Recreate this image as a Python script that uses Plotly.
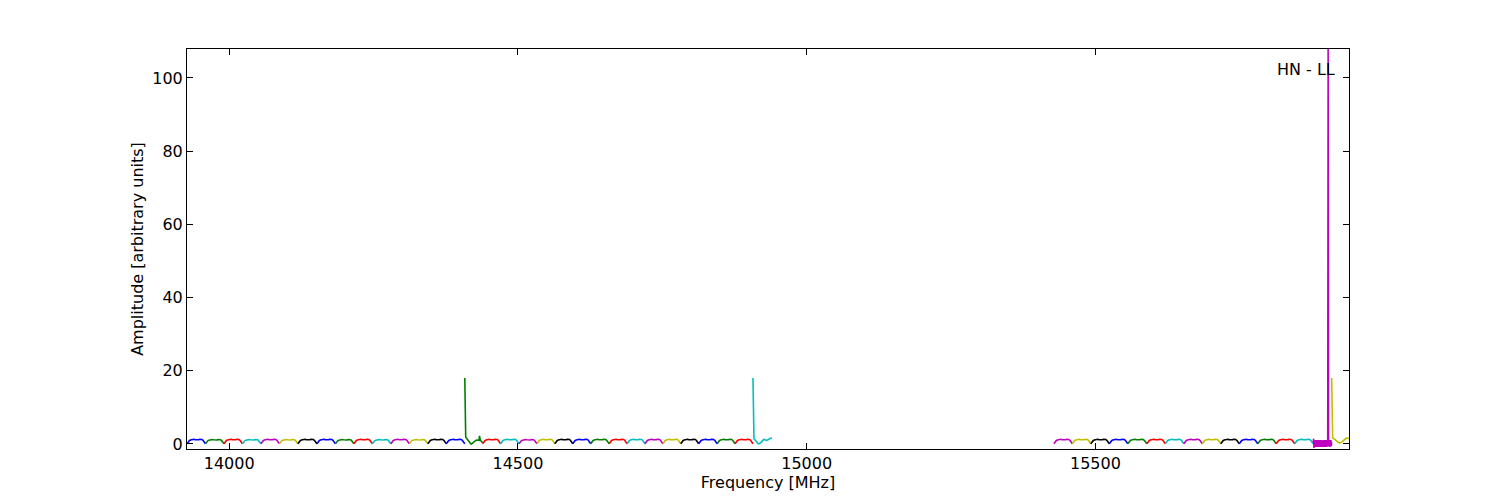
import numpy as np
import plotly.graph_objects as go

# ---------------- data ----------------
# start frequency [MHz] of each spectral window, two groups
G1_STARTS = [13927, 13959, 13991, 14023, 14055, 14087, 14119, 14152, 14184, 14216,
             14248, 14280, 14312, 14344, 14376, 14408, 14439, 14470, 14502, 14533,
             14564, 14595, 14626, 14658, 14689, 14720, 14751, 14782, 14813, 14845,
             14876, 14907]
G1_END = 14940
G2_STARTS = [15428, 15460, 15492, 15524, 15556, 15589, 15621, 15653, 15685, 15717,
             15749, 15781, 15813, 15845, 15877, 15909]
G2_END = 15939

# generic bandpass shape seen in each window (amplitude)
TEMPLATE = [0.05, 0.55, 0.9, 1.1, 1.22, 1.3, 1.28, 1.2, 1.12, 1.1, 1.15, 1.25, 1.3, 1.22, 0.95, 0.5, 0.05]

# per-window level
LEVELS = [1.0, 0.95, 1.0, 0.95, 1.0, 0.95, 1.0, 1.0, 0.95, 1.0, 0.95, 1.0, 0.95, 1.0, 1.0, 1.0,
          1.0, 1.0, 0.95, 1.0, 1.0, 1.0, 1.0, 1.0, 1.0, 1.0, 1.0, 1.0, 1.0, 1.0, 1.0, 1.0,
          1.0, 1.0, 1.0, 1.0, 1.0, 1.0, 1.0, 1.0, 1.0, 1.0, 1.0, 1.0, 1.0, 1.0, 1.0, 1.0]

# windows that differ from the generic shape
SPECIAL = {
    15: [18.0, 2.0, 1.9, 1.7, 1.5, 1.3, 1.1, 0.9, 0.7, 0.5,
         0.35, 0.2, 0.1, 0.05, 0.0, 0.05, 0.1, 0.2, 0.3, 0.45,
         0.6, 0.75, 0.85, 0.95, 1.0, 1.05, 1.1, 1.1, 1.05, 1.0,
         1.0, 1.0, 2.2, 1.0, 0.95, 0.9, 0.8, 0.6, 0.4, 0.3],
    31: [18.0, 1.6, 1.5, 1.3, 1.1, 0.9, 0.7, 0.5, 0.35, 0.2,
         0.1, 0.05, 0.0, 0.05, 0.1, 0.2, 0.35, 0.5, 0.7, 0.9,
         1.1, 1.2, 1.25, 1.2, 1.1, 1.0, 0.95, 0.9, 0.95, 1.0,
         1.1, 1.2, 1.3, 1.4, 1.5, 1.55, 1.6, 1.6, 1.55, 1.5],
    46: [0.4, 1.4, -1.1, 1.0, -0.6, 1.1, -0.8, 1.0, -0.7, 1.1, -0.8, 0.9, -0.7, 1.1, -0.8, 1.0,
         -0.6, 1.1, -0.8, 1.0, -0.7, 1.1, -0.8, 0.9, -0.7, 1.0, -0.8, 1.1, -0.7, 1.0, -0.8, 1.1,
         -0.6, 1.0, -0.8, 1.1, -0.7, 1.0, 107.9, 1.0, -0.7, 1.1, -0.8, 1.0, -0.7, 1.1, -0.6, 0.5],
    47: [18.0, 1.6, 1.6, 1.55, 1.5, 1.4, 1.3, 1.2, 1.05, 0.9,
         0.75, 0.6, 0.5, 0.4, 0.35, 0.3, 0.3, 0.3, 0.35, 0.4,
         0.5, 0.6, 0.75, 0.9, 1.05, 1.2, 1.3, 1.4, 1.5, 1.55,
         1.6, 1.6, 1.6, 1.55, 1.5, 1.5],
}

X_TICKS = [14000, 14500, 15000, 15500]
Y_TICKS = [0, 20, 40, 60, 80, 100]
X_RANGE = [13927, 15939]
Y_RANGE = [-1.37, 107.9]
LABEL = "HN - LL"

COLORS = ["#0000ff", "#008000", "#ff0000", "#00bfbf", "#bf00bf", "#bfbf00", "#000000"]

# ---------------- build figure ----------------
starts = G1_STARTS + G2_STARTS
ends = G1_STARTS[1:] + [G1_END] + G2_STARTS[1:] + [G2_END]

fig = go.Figure()
for i, (s, e) in enumerate(zip(starts, ends)):
    if i in SPECIAL:
        y = np.array(SPECIAL[i], dtype=float)
    else:
        y = np.array(TEMPLATE) * LEVELS[i]
    x = np.linspace(s, e, len(y))
    fig.add_trace(go.Scatter(x=x, y=y, mode="lines",
                             line=dict(color=COLORS[i % len(COLORS)], width=1.6),
                             showlegend=False, hoverinfo="skip"))

font = dict(family="DejaVu Sans", size=16, color="black")
axis_common = dict(showline=True, linecolor="black", linewidth=1, mirror="allticks",
                   ticks="inside", ticklen=6, tickwidth=1, tickcolor="black",
                   showgrid=False, zeroline=False, tickfont=font)

fig.update_layout(
    width=1500, height=500,
    margin=dict(l=179, r=159, t=41, b=59),
    paper_bgcolor="white", plot_bgcolor="white",
    font=font,
    xaxis=dict(range=X_RANGE, tickvals=X_TICKS, ticktext=[str(v) for v in X_TICKS],
               title=dict(text="Frequency [MHz]", font=font, standoff=2), **axis_common),
    yaxis=dict(range=Y_RANGE, tickvals=Y_TICKS, ticktext=[str(v) for v in Y_TICKS],
               title=dict(text="Amplitude [arbitrary units]", font=font, standoff=4), **axis_common),
    annotations=[dict(text=LABEL, xref="paper", yref="paper", x=0.990, y=0.978,
                      xanchor="right", yanchor="top", showarrow=False, font=font)],
)

fig.write_html("out.html")
